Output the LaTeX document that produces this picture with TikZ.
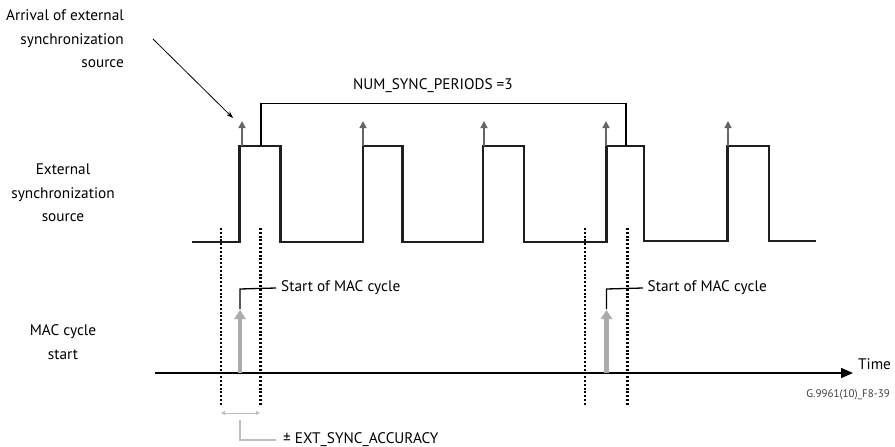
\documentclass[tikz,border=0pt]{standalone}
\usepackage{fontspec}
\setmainfont{PT Sans}
\usetikzlibrary{positioning, arrows.meta}

\begin{document}
\begin{tikzpicture}[x=1pt, y=-1pt,
    txt/.style={font=\fontsize{15.3}{23.5}\selectfont, inner sep=0pt},
    wave/.style={line width=2.4pt, draw=black!88},
    tick/.style={-{Triangle[length=7pt, width=7pt]}, line width=1.4pt, draw=black!60, fill=black!60},
    macarrow/.style={-{Triangle[length=9pt, width=11pt]}, line width=4.5pt, draw=black!33, fill=black!33},
    window/.style={line width=2.2pt, dash pattern=on 2pt off 1.8pt},
    callout/.style={line width=1.3pt},
    axis/.style={-{Triangle[length=12pt, width=10pt]}, line width=1.5pt}
]
\useasboundingbox (0,0) rectangle (895,447);

% labels on the left
\node[txt, align=right, anchor=east] (arrival) at (124,39) {Arrival of external\\synchronization\\source};
\node[txt, align=center] (extsrc) at (63,193) {External\\synchronization\\source};
\node[txt, align=center] (macstart) at (63,342) {MAC cycle\\start};

% external synchronization source
\draw[wave] (192,242) -- (239.5,242) -- (239.5,146) -- (280.5,146) -- (280.5,242)
    -- (363,242) -- (363,146) -- (402.5,146) -- (402.5,242)
    -- (483,242) -- (483,146) -- (524,146) -- (524,242)
    -- (606.5,242) -- (606.5,146) -- (644,146) -- (644,241)
    -- (727.5,241) -- (727.5,146) -- (769,146) -- (769,241) -- (816,241);
\foreach \x in {242,363,484,606,728}
    \draw[tick] (\x,146) -- (\x,121);

\coordinate (arrtip) at (233,118);
\draw[-{Stealth[length=7pt, width=5pt]}, line width=0.8pt] ([xshift=29pt]arrival.east) -- (arrtip);

% number of sync periods
\coordinate (p1) at (261,146);
\coordinate (p2) at (626,146);
\draw[callout] (p1) -- (261,103.5) -- (626,103.5) -- (p2);
\node[txt] (periods) at (433,86) {NUM\_SYNC\_PERIODS =3};

% accuracy windows
\foreach \x in {221,260.5,585,627.5}
    \draw[window] (\x,228) -- (\x,406);

% MAC cycle start
\coordinate (t0) at (155,373);
\coordinate (t1) at (853,373);
\draw[axis] (t0) -- (t1);
\node[txt, anchor=west] (time) at (858,364) {Time};
\node[font=\fontsize{11}{12}\selectfont, inner sep=0pt, anchor=east, text=black!75] (figid) at (890,395) {G.9961(10)\_F8-39};

\draw[macarrow] (240,373) -- (240,310);
\draw[macarrow] (606.5,373) -- (606.5,310);

\node[txt, anchor=west] (mac1) at (281,288) {Start of MAC cycle};
\node[txt, anchor=west] (mac2) at (647.5,288) {Start of MAC cycle};
\draw[callout] (240,309) -- (240,289) -- (mac1.west -| 276,289);
\draw[callout] (606.5,309) -- (606.5,289) -- (mac2.west -| 643,289);

% sync accuracy
\draw[{Triangle[length=4pt, width=4pt]}-{Triangle[length=4pt, width=4pt]}, line width=1pt, draw=black!25, fill=black!25] (221,413) -- (260,413);
\node[txt, anchor=west] (acc) at (283,440) {± EXT\_SYNC\_ACCURACY};
\draw[callout, draw=black!25] (240,420) -- (240,440) -- (acc.west -| 276,440);

\end{tikzpicture}
\end{document}
